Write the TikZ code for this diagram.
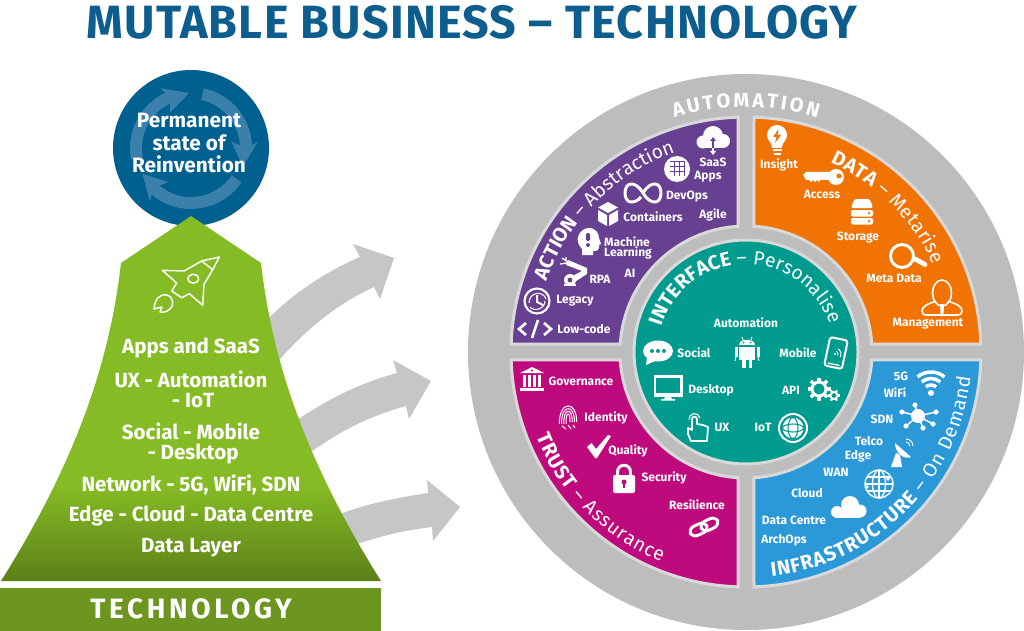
\documentclass[tikz,border=0pt]{standalone}
\usepackage{fontspec}
\setmainfont{Fira Sans}
\newfontfamily\titlefont[LetterSpace=2.6]{Fira Sans}
\newfontfamily\barfont[LetterSpace=13]{Fira Sans}
\usetikzlibrary{decorations.text}
\definecolor{titleblue}{HTML}{0D5E8E}
\definecolor{circleblue}{HTML}{00608F}
\definecolor{swirlblue}{HTML}{3A80AA}
\definecolor{pyrgreen}{HTML}{85BB24}
\definecolor{pyrdark}{HTML}{5C8018}
\definecolor{bargreen}{HTML}{6C961F}
\definecolor{arrowgray}{HTML}{C6C6C6}
\definecolor{ringgray}{HTML}{BDBDBD}
\definecolor{ringlight}{HTML}{D9D9D9}
\definecolor{actionpurple}{HTML}{674092}
\definecolor{dataorange}{HTML}{F07304}
\definecolor{trustpink}{HTML}{BE0A7D}
\definecolor{infrablue}{HTML}{2B98D8}
\definecolor{faceteal}{HTML}{009B8F}
\pgfdeclareverticalshading{pyrshade}{100bp}{color(0bp)=(pyrdark); color(25bp)=(pyrdark); color(38bp)=(pyrgreen); color(100bp)=(pyrgreen)}
\newcommand{\arcbf}{\bfseries\fontsize{15}{15}\selectfont}
\newcommand{\arcrg}{\mdseries\fontsize{14.5}{15}\selectfont}
\tikzset{
	lbl/.style={text=white, font=\bfseries\fontsize{9}{10}\selectfont, inner sep=0pt},
	techlbl/.style={text=white, font=\bfseries\fontsize{15.4}{16}\selectfont, inner sep=0pt},
	icon/.style={shift={#1}, white},
	quadrant/.style={fill=#1, draw=ringlight, line width=2.25pt, line join=miter},
	grayarrow/.style={fill=arrowgray},
	arclabel/.style={decorate, decoration={text along path, text={#1}, text color=white, text align={fit to path}}}
}
\begin{document}
\begin{tikzpicture}[x=0.75pt, y=-0.75pt]
	\useasboundingbox (0,0) rectangle (1024,631);
	%title
	\node[text=titleblue, font=\titlefont\bfseries\fontsize{35}{36}\selectfont, inner sep=0pt] (title) at (472,22) {MUTABLE BUSINESS – TECHNOLOGY};
	%arrows
	\fill[grayarrow] (262,325) .. controls (290,295) and (325,272) .. (360,257) -- (353,244) -- (394,258) -- (380,299) -- (374,287) .. controls (335,305) and (305,330) .. (272,368) -- cycle;
	\fill[grayarrow] (290,425) .. controls (325,400) and (360,383) .. (397,373) -- (393,360) -- (431,381) -- (409,419) -- (406,406) .. controls (370,416) and (340,430) .. (300,460) -- cycle;
	\fill[grayarrow] (330,518) .. controls (360,505) and (395,498) .. (428,493) -- (427,480) -- (460,507) -- (433,541) -- (432,527) .. controls (405,530) and (380,536) .. (345,548) -- cycle;
	%reinvention circle
	\fill[circleblue] (191,148) circle (78);
	\begin{scope}[shift={(191,148)}, y=0.75pt, swirlblue]
		\foreach \a/\b/\t in {191/115/92, 78/3/-20, -34/-130/-152} {
			\fill (\a:61) arc (\a:\b:61) -- (\b+2:67) -- (\t:55) -- (\b+6:41) -- (\b:49) arc (\b:\a:49) -- cycle;
		}
	\end{scope}
	\node[text=white, font=\bfseries\fontsize{15.6}{17}\selectfont, align=center, inner sep=0pt] (reinvent) at (189,143) {Permanent\\[0pt]state of\\[0pt]Reinvention};
	%technology pyramid
	\shade[shading=pyrshade] (191,216) -- (261,263) .. controls (272,360) and (305,460) .. (381,581) -- (1,581) .. controls (77,460) and (110,360) .. (121,263) -- cycle;
	\fill[bargreen] (0,588) rectangle (381,631);
	\node[text=white, font=\barfont\bfseries\fontsize{21}{22}\selectfont, inner sep=0pt] (tech) at (191,609) {TECHNOLOGY};
	\begin{scope}[icon={(185,282)}, line width=1.1pt, line join=round]
		\draw (34.3,-25) -- (16.7,-21) -- (-1,-11) -- (-22.7,-11.7) -- (-8.3,1) -- (-13.3,9) -- (-3.3,15.7) -- (4.3,11.7) -- (17.7,23.3) -- (19,2.3) -- (27.7,-12.3) -- cycle;
		\draw (16.7,-21) -- (27.7,-12.3);
		\draw (8.3,-3.3) ellipse (5.5 and 4.5);
		\draw (-31,27) .. controls (-30,17) and (-26,12) .. (-18,13) .. controls (-11,15) and (-11,24) .. (-15,27) .. controls (-19,31) and (-23,30) .. (-25,30) -- (-23,25) -- cycle;
	\end{scope}
	\node[techlbl] (l1) at (191,348) {Apps and SaaS};
	\node[techlbl] (l2) at (191,379) {UX - Automation};
	\node[techlbl] (l3) at (193,401) {- IoT};
	\node[techlbl] (l4) at (191,431) {Social - Mobile};
	\node[techlbl] (l5) at (193,454) {- Desktop};
	\node[techlbl] (l6) at (191,485) {Network - 5G, WiFi, SDN};
	\node[techlbl] (l7) at (191,516) {Edge - Cloud - Data Centre};
	\node[techlbl] (l8) at (191,548) {Data Layer};
	%ring and quadrants
	\fill[ringgray] (746,352) circle (278);
	\begin{scope}[shift={(746,352)}, y=0.75pt]
		\foreach \col/\rot in {dataorange/0, actionpurple/90, trustpink/180, infrablue/270} {
			\path[quadrant=\col, rotate=\rot] (86.4:126) arc (86.4:3.6:126) -- (1.95:235) arc (1.95:88.05:235) -- cycle;
		}
		\path[fill=faceteal, draw=ringlight, line width=2.25pt] (0,0) circle (112);
		%curved texts
		\path[arclabel={|\arcbf|AUTOMATION}] (107:245) arc (107:73:245);
		\path[arclabel={|\arcbf|ACTION |\arcrg|– Abstraction}] (160.5:212) arc (160.5:109.5:212);
		\path[arclabel={|\arcbf|DATA |\arcrg|– Metarise}] (66:207) arc (66:25:207);
		\path[arclabel={|\arcbf|INTERFACE |\arcrg|– Personalise}] (163:88) arc (163:18:88);
		\path[arclabel={|\arcbf|TRUST |\arcrg|– Assurance}] (202:226) arc (202:248:226);
		\path[arclabel={|\arcbf|INFRASTRUCTURE |\arcrg|– On Demand}] (276.5:226) arc (276.5:353.5:226);
	\end{scope}
	%action labels
	\node[lbl] (saas) at (713,162) {SaaS};
	\node[lbl] (apps) at (708,177) {Apps};
	\node[lbl] (devops) at (687,197) {DevOps};
	\node[lbl] (containers) at (653,217) {Containers};
	\node[lbl] (agile) at (713,215) {Agile};
	\node[lbl] (machine) at (627,242) {Machine};
	\node[lbl] (learning) at (628,253) {Learning};
	\node[lbl] (rpa) at (600,279) {RPA};
	\node[lbl] (ai) at (630,273) {AI};
	\node[lbl] (legacy) at (575,301) {Legacy};
	\node[lbl] (lowcode) at (584,329) {Low-code};
	%data labels
	\node[lbl] (insight) at (779,165) {Insight};
	\node[lbl] (access) at (822,194) {Access};
	\node[lbl] (storage) at (858,238) {Storage};
	\node[lbl] (metadata) at (894,278) {Meta Data};
	\node[lbl] (management) at (928,324) {Management};
	%trust labels
	\node[lbl] (governance) at (581,381) {Governance};
	\node[lbl] (identity) at (606,418) {Identity};
	\node[lbl] (quality) at (628,451) {Quality};
	\node[lbl] (security) at (664,478) {Security};
	\node[lbl] (resilience) at (697,505) {Resilience};
	%infrastructure labels
	\node[lbl] (fiveg) at (901,376) {5G};
	\node[lbl] (wifi) at (895,393) {WiFi};
	\node[lbl] (sdn) at (882,419) {SDN};
	\node[lbl] (telco) at (869,441) {Telco};
	\node[lbl] (edge) at (858,456) {Edge};
	\node[lbl] (wan) at (836,472) {WAN};
	\node[lbl] (cloud) at (807,493) {Cloud};
	\node[lbl] (datacentre) at (794,520) {Data Centre};
	\node[lbl] (archops) at (784,540) {ArchOps};
	%interface labels
	\node[lbl] (automation) at (746,323) {Automation};
	\node[lbl] (social) at (694,353) {Social};
	\node[lbl] (mobile) at (798,353) {Mobile};
	\node[lbl] (desktop) at (711,390) {Desktop};
	\node[lbl] (api) at (791,390) {API};
	\node[lbl] (ux) at (722,427) {UX};
	\node[lbl] (iot) at (763,427) {IoT};
	%saas cloud
	\begin{scope}[icon={(713,140)}]
		\fill (-10,2) circle (6.5);
		\fill (0,-4) circle (10);
		\fill (10,1) circle (7);
		\fill (-10,2) rectangle (10,8.5);
		\draw[actionpurple, line width=1pt] (0,0) -- (0,8.5);
		\fill[actionpurple] (-3,1) -- (0,-3) -- (3,1) -- cycle;
		\draw[line width=1pt] (0,8.5) -- (0,12);
		\fill (-3,11) -- (0,15) -- (3,11) -- cycle;
	\end{scope}
	%apps grid
	\begin{scope}[icon={(677,169)}]
		\fill (0,0) circle (13);
		\fill[actionpurple] (-7.5,-7.5) rectangle (7.5,7.5);
		\foreach \i in {-7,-2,3} \foreach \j in {-7,-2,3} \fill (\i,\j) rectangle (\i+4,\j+4);
	\end{scope}
	%devops loop
	\begin{scope}[icon={(643,193)}, line width=2.2pt]
		\draw (0,0) .. controls (5,-8) and (9,-9) .. (12,-9) .. controls (20,-9) and (20,9) .. (12,9) .. controls (9,9) and (5,8) .. (0,0) .. controls (-5,-8) and (-9,-9) .. (-12,-9) .. controls (-20,-9) and (-20,9) .. (-12,9) .. controls (-9,9) and (-5,8) .. (-2,4);
	\end{scope}
	%containers box
	\begin{scope}[icon={(608,214)}]
		\fill (0,-12) -- (10,-6.5) -- (0,-1) -- (-10,-6.5) -- cycle;
		\fill (-10,-4) -- (-1,1) -- (-1,12) -- (-10,7) -- cycle;
		\fill (10,-4) -- (1,1) -- (1,12) -- (10,7) -- cycle;
	\end{scope}
	%machine learning head
	\begin{scope}[icon={(588,242)}]
		\fill (-6,13) -- (-6,7) .. controls (-10,3) and (-11,-2) .. (-10,-5) .. controls (-8,-12) and (-2,-14) .. (1,-14) .. controls (8,-14) and (11,-8) .. (11,-4) -- (13,2) -- (11,3) -- (11,6) .. controls (11,9) and (8,9) .. (5,9) -- (5,13) -- cycle;
		\fill[actionpurple, rounded corners=1pt] (-2,-9) rectangle (2,-1);
		\fill[actionpurple] (0,3) circle (2);
	\end{scope}
	%robot arm
	\begin{scope}[icon={(575,271)}]
		\fill (-7,-11) -- (12,-3) -- (12,3) -- (-2,12) -- (-8,8) -- (7,0) -- (-9,-6) -- cycle;
		\draw[line width=1pt] (-7,-9) -- (-13,-13) (-8,-8) -- (-15,-7) (-9,-10) -- (-9,-14);
		\fill (-5,9) circle (6);
		\fill[actionpurple] (-5,9) circle (2.4);
		\fill (-11,13) rectangle (1,15);
	\end{scope}
	%legacy clock
	\begin{scope}[icon={(537,301)}]
		\draw[line width=1.6pt] (0,0) circle (12.5);
		\draw[line width=.8pt] (-8,2) .. controls (-8,-9) and (6,-11) .. (9,-2) (8,0) .. controls (8,8) and (-3,11) .. (-7,6);
		\draw[line width=1.5pt] (0,-6) -- (0,1) -- (6,4);
	\end{scope}
	%low code
	\begin{scope}[icon={(535,329)}, line width=2pt]
		\draw (-9,-6) -- (-16,0) -- (-9,6);
		\draw (9,-6) -- (16,0) -- (9,6);
		\draw (3,-9) -- (-3,9);
	\end{scope}
	%insight bulb
	\begin{scope}[icon={(777,141)}]
		\fill (0,-6) circle (10);
		\fill (-7,0) -- (7,0) -- (4.5,7) -- (-4.5,7) -- cycle;
		\fill (-4.5,8.5) rectangle (4.5,10.5);
		\fill (-3.5,12) rectangle (3.5,14);
		\fill[dataorange] (1.5,-12) -- (-4,-4) -- (-0.5,-4) -- (-2,2) -- (4,-6) -- (0.5,-6) -- cycle;
	\end{scope}
	%access key
	\begin{scope}[icon={(823,177)}]
		\fill (13,0) circle (8);
		\fill (-20,-2) -- (-17,-5) -- (8,-5) -- (8,3) -- (-3,3) -- (-4,5) -- (-6,3) -- (-8,5) -- (-10,3) -- (-12,5) -- (-14,3) -- (-17,3) -- cycle;
		\fill[dataorange] (16,-1) circle (2.5);
	\end{scope}
	%storage stack
	\begin{scope}[icon={(862,214)}]
		\fill[rounded corners=1.5pt] (-8,-15) -- (8,-15) -- (11,-6) -- (-11,-6) -- cycle;
		\foreach \y in {-4,4} {
			\fill[rounded corners=1.5pt] (-11,\y) rectangle (11,\y+6.5);
			\fill[dataorange] (7,\y+3.2) circle (1.4);
		}
	\end{scope}
	%meta data lens
	\begin{scope}[icon={(906,256)}]
		\draw[line width=2.2pt] (-4,0) circle (11.5);
		\draw[line width=3.6pt, line cap=round] (9,3) -- (19,8.5);
	\end{scope}
	%management person
	\begin{scope}[icon={(942,298)}, line width=1.2pt]
		\draw (0,-5) ellipse (9.5 and 13);
		\draw (-6,3) .. controls (-14,6) and (-20,8) .. (-20,13) .. controls (-20,16) and (-18,17) .. (-16,17) -- (16,17) .. controls (18,17) and (20,16) .. (20,13) .. controls (20,8) and (14,6) .. (6,3);
		\fill (-2,6) -- (2,6) -- (1.5,16) -- (-1.5,16) -- cycle;
	\end{scope}
	%governance bank
	\begin{scope}[icon={(532,379)}]
		\fill (0,-12) -- (12,-6) -- (-12,-6) -- cycle;
		\foreach \x in {-10,-5,0,5} \fill (\x+1,-4) rectangle (\x+4,8);
		\fill (-12,9) rectangle (12,12);
		\fill[trustpink] (0,-8.5) circle (1.2);
	\end{scope}
	%identity fingerprint
	\begin{scope}[icon={(568,416)}, line width=.75pt]
		\foreach \r in {2,4.2,6.4,8.6} \draw (-\r,8) .. controls (-\r-0.5,-1.6*\r-2) and (\r+0.5,-1.6*\r-2) .. (\r,6);
		\draw (-6,10) -- (-2,13) (0,9) -- (3,13) (5,9) -- (7,12);
	\end{scope}
	%quality check
	\begin{scope}[icon={(599,446)}]
		\fill (-12,1) -- (-7.5,-3) -- (-3,3) -- (9,-11) -- (12,-10) -- (-2,12) -- (-4,12) -- cycle;
	\end{scope}
	%security lock
	\begin{scope}[icon={(624,478)}]
		\fill[rounded corners=1.5pt] (-11,-3) rectangle (11,15);
		\draw[line width=2.2pt] (-6.5,-2) -- (-6.5,-6) .. controls (-6.5,-15) and (6.5,-15) .. (6.5,-6) -- (6.5,-2);
		\fill[trustpink] (0,4) circle (2.5);
		\fill[trustpink] (-1,5) rectangle (1,10);
	\end{scope}
	%resilience links
	\begin{scope}[icon={(704,527)}]
		\draw[line width=2.2pt, rounded corners=4.5pt, rotate=25] (-15,-5) rectangle (3,5);
		\draw[line width=2.2pt, rounded corners=4.5pt, rotate=25] (-3,-5) rectangle (15,5);
	\end{scope}
	%wifi
	\begin{scope}[icon={(931,383)}]
		\fill (0,10) circle (3);
		\foreach \r in {8,14.5,21} \draw[line width=2.6pt] ([shift={(-50:\r)}]0,10) arc (-50:-130:\r);
	\end{scope}
	%sdn hub
	\begin{scope}[icon={(918,417)}]
		\fill (0,-1) circle (7);
		\foreach \x/\y in {-16/-5, -12/9, -3/-12, 18/-5, 15/7, 5/11} {
			\draw[line width=1.1pt] (0,-1) -- (\x,\y);
			\fill (\x,\y) circle (2.6);
		}
	\end{scope}
	%edge dish
	\begin{scope}[icon={(902,455)}]
		\fill (-7,-12) .. controls (-7,-2) and (2,5) .. (9,2) -- cycle;
		\fill (-11,12) -- (0,12) -- (-2,0) -- (-6,-2) -- cycle;
		\foreach \r in {4,7} \draw[line width=.7pt] ([shift={(0:\r)}]4,-9) arc (0:-90:\r);
	\end{scope}
	%wan globe
	\begin{scope}[icon={(879,484)}, line width=1pt]
		\draw (0,0) circle (14);
		\draw (0,0) ellipse (6.5 and 14);
		\draw (0,-14) -- (0,14) (-14,0) -- (14,0) (-12,-7) -- (12,-7) (-12,7) -- (12,7);
		\foreach \x/\y in {-6/-7, 6/7, -12/3, 9/-5} \fill (\x,\y) circle (1.8);
	\end{scope}
	%cloud
	\begin{scope}[icon={(848,507)}]
		\fill (-11,5) circle (6);
		\fill (2,-2) circle (9);
		\fill (12,4) circle (6.5);
		\fill (-11,3) rectangle (12,10.5);
	\end{scope}
	%social bubble
	\begin{scope}[icon={(658,352)}]
		\fill (0,-1) ellipse (15 and 10.5);
		\fill (-11,5) -- (-12,13) -- (-3,9) -- cycle;
		\foreach \x in {-6,0,6} \fill[faceteal] (\x,-1) circle (2);
	\end{scope}
	%desktop screen
	\begin{scope}[icon={(668,388)}]
		\fill (-14.5,-13) rectangle (14.5,9);
		\fill[faceteal] (-12,-10.5) rectangle (12,5);
		\fill (-3,9) -- (3,9) -- (4,11) -- (7,11) -- (7,12.5) -- (-7,12.5) -- (-7,11) -- (-4,11) -- cycle;
	\end{scope}
	%automation robot
	\begin{scope}[icon={(747,352)}]
		\fill (-8,-7) .. controls (-8,-14) and (8,-14) .. (8,-7) -- cycle;
		\draw[line width=.8pt] (-4,-12) -- (-5,-15) (4,-12) -- (5,-15);
		\fill[faceteal] (-3.5,-9.5) circle (1);
		\fill[faceteal] (3.5,-9.5) circle (1);
		\fill (-8,-5.5) rectangle (8,8);
		\fill (-12.5,-5.5) rectangle (-9.5,5);
		\fill (9.5,-5.5) rectangle (12.5,5);
		\fill (-5,8) rectangle (-1.5,16);
		\fill (1.5,8) rectangle (5,16);
		\draw[line width=.7pt] (-11,5) -- (-12,9) (11,5) -- (12,9);
	\end{scope}
	%mobile phone
	\begin{scope}[icon={(836,353)}]
		\draw[line width=1.5pt, rounded corners=2pt, rotate=-12] (-9,-14.5) rectangle (9,14.5);
		\fill (-1,1) circle (1.2);
		\foreach \r in {3,6} \draw[line width=.7pt] ([shift={(30:\r)}]-1,1) arc (30:-60:\r);
		\draw[line width=1pt, rotate=-12] (-6,11.5) -- (6,11.5);
	\end{scope}
	%api gears
	\begin{scope}[icon={(819,389)}]
		\draw[line width=2.2pt] (0,0) circle (7);
		\foreach \a in {0,45,...,315} \draw[line width=2.6pt] (\a:7) -- (\a:11.5);
		\begin{scope}[shift={(15,6.5)}]
			\draw[line width=1.4pt] (0,0) circle (3.5);
			\foreach \a in {0,60,...,300} \draw[line width=1.6pt] (\a:3.5) -- (\a:6);
		\end{scope}
	\end{scope}
	%ux hand
	\begin{scope}[icon={(698,427)}, line width=1.3pt, line join=round]
		\draw (-6,-8) -- (-6,3) -- (-10,1) -- (-10,7) -- (-7,14) -- (9,14) -- (10,0) -- (5,-2) -- (-1,-3) -- (-1,-8) .. controls (-1,-11) and (-6,-11) .. (-6,-8);
		\draw[line width=.8pt] ([shift={(-10:5.5)}]-3.5,-8) arc (-10:-190:5.5);
	\end{scope}
	%iot globe
	\begin{scope}[icon={(793,428)}]
		\draw[line width=1.5pt] (0,0) circle (14);
		\fill (0,0) circle (10.5);
		\draw[faceteal, line width=.8pt] (0,0) ellipse (5 and 10.5);
		\draw[faceteal, line width=.8pt] (0,0) ellipse (10.5 and 4);
	\end{scope}
\end{tikzpicture}
\end{document}
